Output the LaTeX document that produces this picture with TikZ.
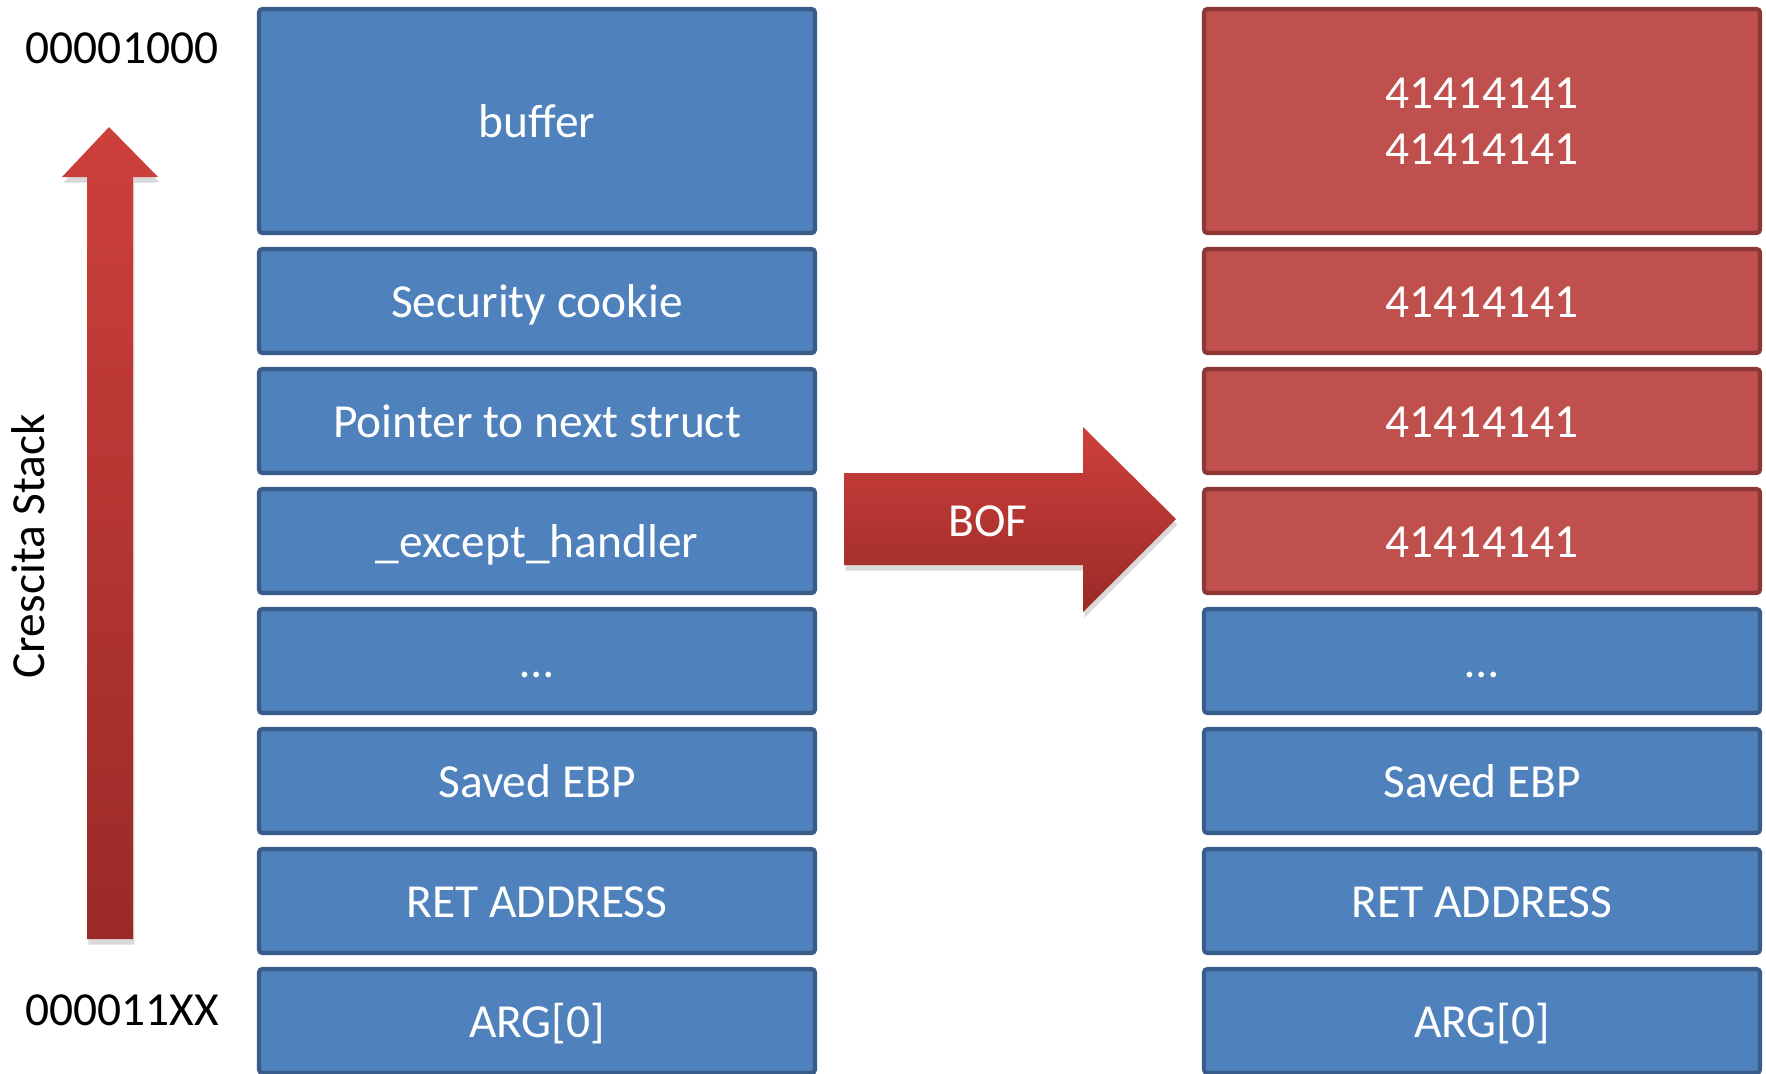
\documentclass[tikz,border=0pt]{standalone}
\usepackage{fontspec}
\setmainfont{Carlito}
\usepackage{tikz}
\usetikzlibrary{positioning, shadows}

\definecolor{boxblue}{HTML}{4F81BD}
\definecolor{boxblueline}{HTML}{385D8A}
\definecolor{boxred}{HTML}{C0504D}
\definecolor{boxredline}{HTML}{8C3836}
\definecolor{arrowtop}{HTML}{CD403C}
\definecolor{arrowbottom}{HTML}{9A2A27}

\begin{document}
\begin{tikzpicture}[
    every node/.style={font=\fontsize{13.5pt}{16pt}\selectfont},
    box/.style={rectangle, rounded corners=1pt, line width=1.2pt,
        minimum width=5.56cm, minimum height=1.04cm, outer sep=0pt,
        text=white, text height=11.5pt, text depth=2pt, align=center},
    bluebox/.style={box, fill=boxblue, draw=boxblueline},
    redbox/.style={box, fill=boxred, draw=boxredline},
    addr/.style={text=black},
    bigarrow/.style={top color=arrowtop, bottom color=arrowbottom,
        drop shadow={shadow xshift=0.4pt, shadow yshift=-1.6pt, opacity=0.3}}
    ]
    \useasboundingbox (0,0) rectangle (17.66,-10.73);

    % Stack before
    \node[bluebox, minimum height=2.24cm] (lbuf) at (5.37,-1.21) {buffer};
    \node[bluebox] (lcookie) [below=0.16cm of lbuf] {Security cookie};
    \node[bluebox] (lnext) [below=0.16cm of lcookie] {Pointer to next struct};
    \node[bluebox] (lhandler) [below=0.16cm of lnext] {\_except\_handler};
    \node[bluebox] (ldots) [below=0.16cm of lhandler] {…};
    \node[bluebox] (lebp) [below=0.16cm of ldots] {Saved EBP};
    \node[bluebox] (lret) [below=0.16cm of lebp] {RET ADDRESS};
    \node[bluebox] (larg) [below=0.16cm of lret] {ARG[0]};

    % Stack after the overflow
    \node[redbox, minimum height=2.24cm, text height=, text depth=] (rbuf) at (14.82,-1.21) {41414141\\41414141};
    \node[redbox] (rcookie) [below=0.16cm of rbuf] {41414141};
    \node[redbox] (rnext) [below=0.16cm of rcookie] {41414141};
    \node[redbox] (rhandler) [below=0.16cm of rnext] {41414141};
    \node[bluebox] (rdots) [below=0.16cm of rhandler] {…};
    \node[bluebox] (rebp) [below=0.16cm of rdots] {Saved EBP};
    \node[bluebox] (rret) [below=0.16cm of rebp] {RET ADDRESS};
    \node[bluebox] (rarg) [below=0.16cm of rret] {ARG[0]};

    % Addresses
    \node[addr] (top) at (1.22,-0.48) {00001000};
    \node[addr] (bottom) at (1.22,-10.10) {000011XX};
    \node[addr, rotate=90] (growth) at (0.28,-5.46) {Crescita Stack};

    % Arrows
    \path[bigarrow] (0.87,-9.39) -- (0.87,-1.77) -- (0.62,-1.77) -- (1.09,-1.27)
        -- (1.58,-1.77) -- (1.33,-1.77) -- (1.33,-9.39) -- cycle;
    \path[bigarrow] (8.44,-4.73) -- (10.83,-4.73) -- (10.83,-4.27) -- (11.76,-5.19)
        -- (10.83,-6.12) -- (10.83,-5.65) -- (8.44,-5.65) -- cycle;
    \node[text=white, text height=11.5pt, text depth=2pt] (bof) at (9.88,-5.20) {BOF};
\end{tikzpicture}
\end{document}
